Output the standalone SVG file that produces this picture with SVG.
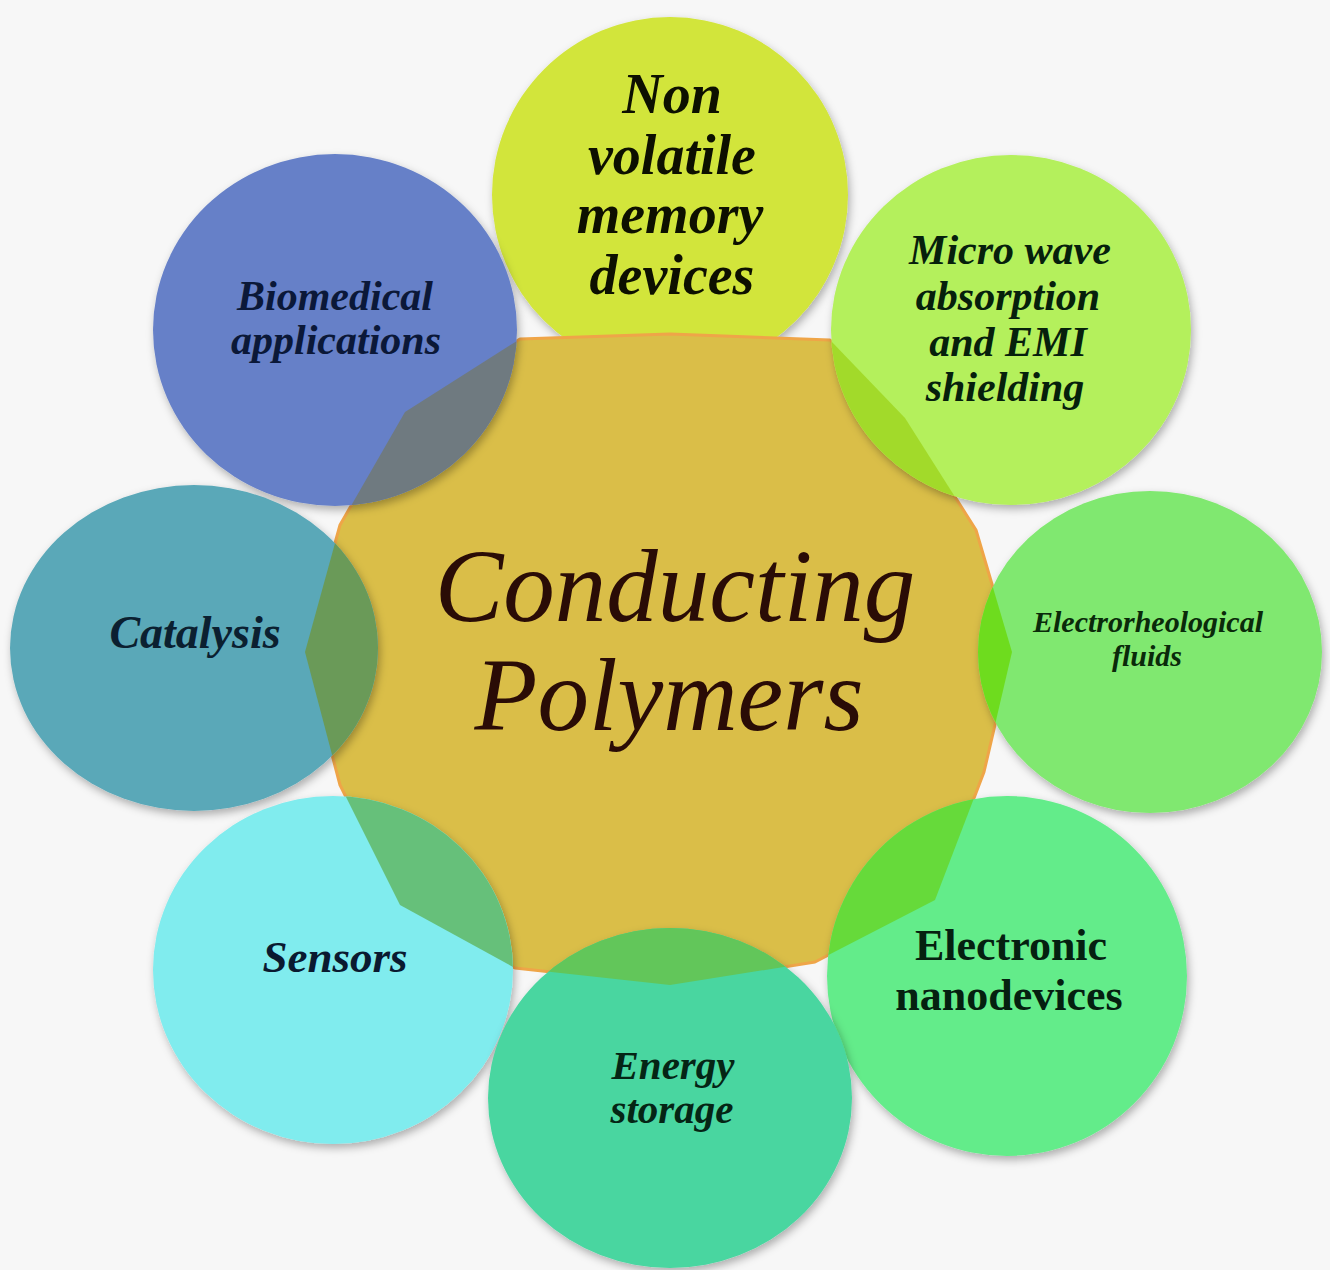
<svg xmlns="http://www.w3.org/2000/svg" xmlns:xlink="http://www.w3.org/1999/xlink" width="1330" height="1270" viewBox="0 0 1330 1270">
<style>
.lbl{font-family:"Liberation Serif","Times New Roman",serif;font-weight:bold;font-style:italic;text-anchor:middle}
.up{font-family:"Liberation Serif","Times New Roman",serif;font-weight:bold;text-anchor:middle}
.title{font-family:"Liberation Serif","Times New Roman",serif;font-style:italic;text-anchor:middle;fill:#2a0c06}
.disc{filter:url(#sh)}
</style>
<defs>
<filter id="sh" x="-10%" y="-10%" width="125%" height="125%">
<feDropShadow dx="2" dy="4" stdDeviation="4" flood-color="#000" flood-opacity="0.3"/>
</filter>
<polygon id="star" points="670,334 830,340 905,418 976,530 1012,652 984,772 935,900 815,962 670,985 515,968 400,905 340,785 305,652 340,525 405,412 520,339"/>
<clipPath id="c-bio"><ellipse cx="335" cy="330" rx="182" ry="176"/></clipPath>
<clipPath id="c-mic"><ellipse cx="1011" cy="330" rx="180" ry="175"/></clipPath>
<clipPath id="c-cat"><ellipse cx="194" cy="648" rx="184" ry="163"/></clipPath>
<clipPath id="c-ele"><ellipse cx="1150" cy="652" rx="172" ry="161"/></clipPath>
<clipPath id="c-sen"><ellipse cx="333" cy="970" rx="180" ry="174"/></clipPath>
<clipPath id="c-nan"><ellipse cx="1007" cy="976" rx="180" ry="180"/></clipPath>
<clipPath id="c-ene"><ellipse cx="670" cy="1098" rx="182" ry="170"/></clipPath>
</defs>
<rect width="1330" height="1270" fill="#F7F7F7"/>

<g id="node-nonvolatile">
<ellipse class="disc" cx="670" cy="195" rx="178" ry="178" fill="#D2E53A"/>
<text class="lbl" x="672" y="113" font-size="56" fill="#0d1000">Non</text>
<text class="lbl" x="672" y="174" font-size="56" fill="#0d1000">volatile</text>
<text class="lbl" x="670" y="233" font-size="56" fill="#0d1000">memory</text>
<text class="lbl" x="672" y="294" font-size="56" fill="#0d1000">devices</text>
</g>

<g id="node-center">
<use xlink:href="#star" href="#star" fill="#DABE48" stroke="#EFA548" stroke-width="3" stroke-linejoin="round"/>
<text class="title" x="675" y="621" font-size="103">Conducting</text>
<text class="title" x="669" y="730" font-size="103">Polymers</text>
</g>

<g id="node-biomedical">
<ellipse class="disc" cx="335" cy="330" rx="182" ry="176" fill="#6680C8"/>
<use xlink:href="#star" href="#star" fill="#6F7A80" clip-path="url(#c-bio)"/>
<text class="lbl" x="335" y="310" font-size="42" fill="#0b1838">Biomedical</text>
<text class="lbl" x="336" y="354" font-size="42" fill="#0b1838">applications</text>
</g>

<g id="node-microwave">
<ellipse class="disc" cx="1011" cy="330" rx="180" ry="175" fill="#B4F05C"/>
<use xlink:href="#star" href="#star" fill="#A2DA2A" clip-path="url(#c-mic)"/>
<text class="lbl" x="1010" y="264" font-size="42" fill="#06200c">Micro wave</text>
<text class="lbl" x="1008" y="310" font-size="42" fill="#06200c">absorption</text>
<text class="lbl" x="1008" y="356" font-size="42" fill="#06200c">and EMI</text>
<text class="lbl" x="1005" y="401" font-size="42" fill="#06200c">shielding</text>
</g>

<g id="node-catalysis">
<ellipse class="disc" cx="194" cy="648" rx="184" ry="163" fill="#5AA8B8"/>
<use xlink:href="#star" href="#star" fill="#6A9A58" clip-path="url(#c-cat)"/>
<text class="lbl" x="195" y="648" font-size="46" fill="#0b2030">Catalysis</text>
</g>

<g id="node-electrorheological">
<ellipse class="disc" cx="1150" cy="652" rx="172" ry="161" fill="#80E870"/>
<use xlink:href="#star" href="#star" fill="#6EDC1E" clip-path="url(#c-ele)"/>
<text class="lbl" x="1148" y="632" font-size="30" fill="#0a2a0a">Electrorheological</text>
<text class="lbl" x="1147" y="666" font-size="30" fill="#0a2a0a">fluids</text>
</g>

<g id="node-sensors">
<ellipse class="disc" cx="333" cy="970" rx="180" ry="174" fill="#80ECEE"/>
<use xlink:href="#star" href="#star" fill="#66C07A" clip-path="url(#c-sen)"/>
<text class="lbl" x="335" y="972" font-size="45" fill="#0a1a30">Sensors</text>
</g>

<g id="node-nanodevices">
<ellipse class="disc" cx="1007" cy="976" rx="180" ry="180" fill="#64EC8A"/>
<use xlink:href="#star" href="#star" fill="#66DA3A" clip-path="url(#c-nan)"/>
<text class="up" x="1011" y="960" font-size="44" fill="#052010">Electronic</text>
<text class="up" x="1009" y="1010" font-size="44" fill="#052010">nanodevices</text>
</g>

<g id="node-energy">
<ellipse class="disc" cx="670" cy="1098" rx="182" ry="170" fill="#48D6A0"/>
<use xlink:href="#star" href="#star" fill="#62C65A" clip-path="url(#c-ene)"/>
<text class="lbl" x="673" y="1079" font-size="41" fill="#052515">Energy</text>
<text class="lbl" x="672" y="1123" font-size="41" fill="#052515">storage</text>
</g>
</svg>
